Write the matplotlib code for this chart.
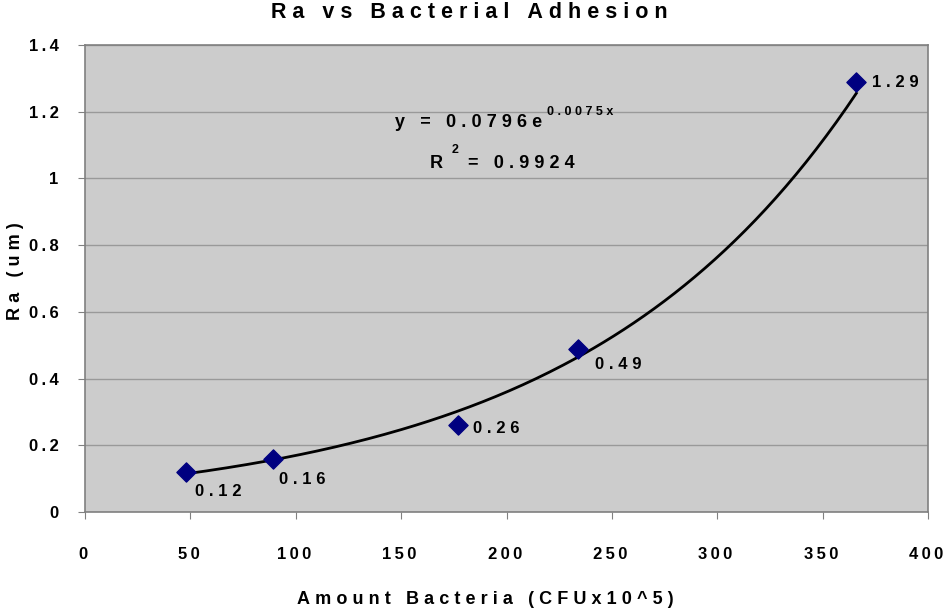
import numpy as np
import matplotlib
matplotlib.use("Agg")
import matplotlib.pyplot as plt
from matplotlib.ticker import FuncFormatter

# data
bacteria = [48, 89, 177, 234, 366]
ra = [0.12, 0.16, 0.26, 0.49, 1.29]
point_labels = ["0.12", "0.16", "0.26", "0.49", "1.29"]
x_ticks = [0, 50, 100, 150, 200, 250, 300, 350, 400]
y_ticks = [0, 0.2, 0.4, 0.6, 0.8, 1.0, 1.2, 1.4]

# label offsets in points (style only)
label_offsets = [(6, -14), (4.5, -15), (11, -2), (12, -11.5), (11.5, -0.5)]

THIN = "\u2009"
WIDE = "\u2009\u200a"


def spaced(s, sep=THIN):
    return sep.join(s)


plt.rcParams['font.family'] = ['Liberation Sans', 'DejaVu Sans']
plt.rcParams['font.weight'] = 'bold'

fig = plt.figure(figsize=(9.45, 6.12), dpi=100)
ax = fig.add_axes([0.09, 0.1634, 0.892, 0.7631])
ax.set_facecolor('#CCCCCC')

# exponential trendline fitted to the points
b, ln_a = np.polyfit(bacteria, np.log(ra), 1)
xs = np.linspace(min(bacteria), max(bacteria), 200)
ax.plot(xs, np.exp(ln_a) * np.exp(b * xs), color='black', lw=2, zorder=3)

ax.scatter(bacteria, ra, marker='D', s=95, color='#000080', edgecolor='#000080', zorder=4)

for xv, yv, lab, off in zip(bacteria, ra, point_labels, label_offsets):
    ax.annotate(spaced(lab, WIDE), (xv, yv), xytext=off, textcoords='offset points',
                fontsize=12, fontweight='bold', ha='left', va='center')

ax.set_xlim(0, 400)
ax.set_ylim(0, 1.4)
ax.set_xticks(x_ticks)
ax.set_yticks(y_ticks)
ax.xaxis.set_major_formatter(FuncFormatter(lambda v, p: spaced('%g' % v) + THIN))
ax.yaxis.set_major_formatter(FuncFormatter(lambda v, p: spaced('%g' % v)))
ax.tick_params(axis='x', direction='out', length=5, pad=20, labelsize=12, color='#808080')
ax.tick_params(axis='y', direction='out', length=5, pad=14, labelsize=12, color='#808080')
for lbl in ax.get_xticklabels() + ax.get_yticklabels():
    lbl.set_fontweight('bold')

ax.yaxis.grid(True, color='#999999', lw=1)
ax.set_axisbelow(True)
for sp in ax.spines.values():
    sp.set_color('#808080')
    sp.set_linewidth(1.2)

fig.text(0.497, 0.98, spaced("Ra vs Bacterial Adhesion", WIDE), fontsize=15.5, fontweight='bold',
         ha='center', va='center')
ax.set_xlabel(spaced("Amount Bacteria (CFUx10^5)", WIDE), fontsize=13, fontweight='bold', va='center')
ax.xaxis.set_label_coords(0.475, -0.188)
ax.set_ylabel(spaced("Ra (um)", WIDE), fontsize=13, fontweight='bold', va='center')
ax.yaxis.set_label_coords(-0.083, 0.515)

# trendline equation
eq = ax.annotate(spaced("y = 0.0796e", WIDE), xy=(0.368, 0.833), xycoords='axes fraction',
                 fontsize=13, fontweight='bold', ha='left', va='center')
ax.annotate(spaced("0.0075x", WIDE), xy=(1, 1), xycoords=eq, xytext=(3.5, 1.5),
            textcoords='offset points', fontsize=9, fontweight='bold', ha='left', va='center')
ax.annotate("R", xy=(0.409, 0.747), xycoords='axes fraction',
            fontsize=13, fontweight='bold', ha='left', va='center')
ax.annotate("2", xy=(0.435, 0.775), xycoords='axes fraction',
            fontsize=9, fontweight='bold', ha='left', va='center')
ax.annotate(spaced("= 0.9924", WIDE), xy=(0.454, 0.747), xycoords='axes fraction',
            fontsize=13, fontweight='bold', ha='left', va='center')

fig.savefig("out.png", dpi=100)
